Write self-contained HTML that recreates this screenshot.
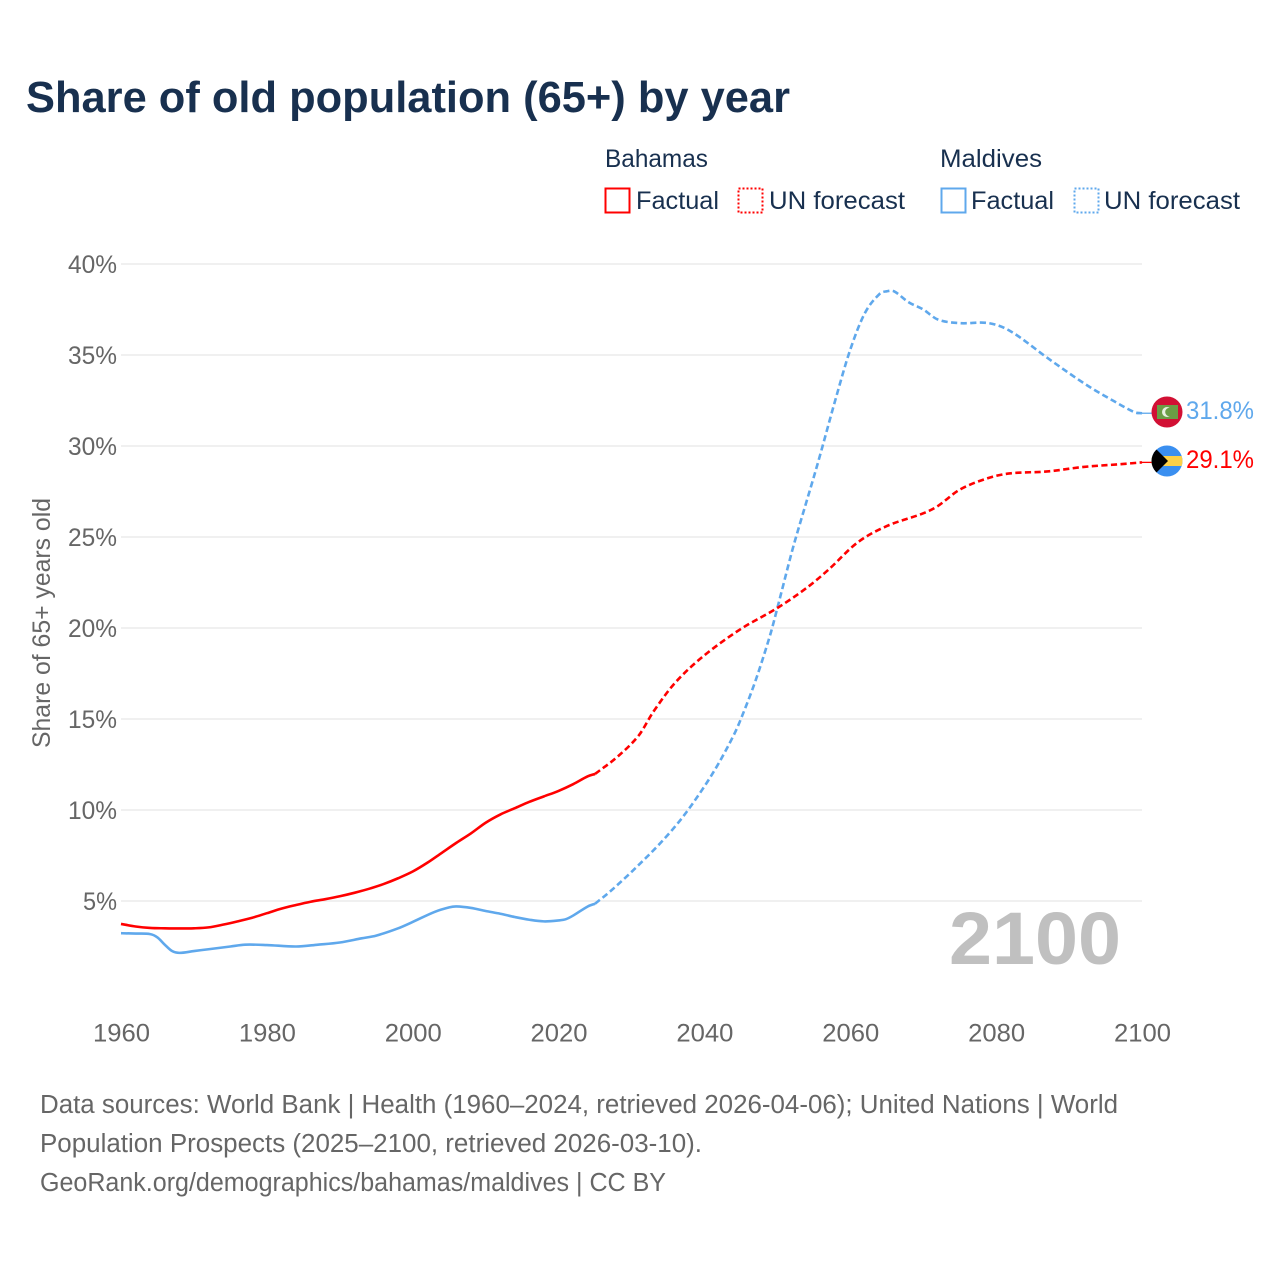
<!DOCTYPE html>
<html lang="en">
<head>
<meta charset="utf-8">
<title>Share of old population (65+) by year</title>
<style>
html,body{margin:0;padding:0;background:#fff;width:1280px;height:1280px;overflow:hidden}
svg{display:block}
text{font-family:"Liberation Sans",sans-serif}
</style>
</head>
<body>
<svg id="chart" width="1280" height="1280" viewBox="0 0 1280 1280" xmlns="http://www.w3.org/2000/svg">
  <rect width="1280" height="1280" fill="#ffffff"/>
  <text x="26" y="112" font-size="44" font-weight="700" fill="#18304f" textLength="764" lengthAdjust="spacingAndGlyphs">Share of old population (65+) by year</text>

  <g font-size="25" fill="#18304f">
    <text x="605" y="167" textLength="103" lengthAdjust="spacingAndGlyphs">Bahamas</text>
    <rect x="605.5" y="188.5" width="24" height="24" fill="none" stroke="#ff0000" stroke-width="2"/>
    <text x="636" y="209" textLength="83" lengthAdjust="spacingAndGlyphs">Factual</text>
    <rect x="738.5" y="188.5" width="24" height="24" fill="none" stroke="#ff0000" stroke-width="2" stroke-dasharray="2 2"/>
    <text x="769" y="209" textLength="136" lengthAdjust="spacingAndGlyphs">UN forecast</text>
    <text x="940" y="167" textLength="102" lengthAdjust="spacingAndGlyphs">Maldives</text>
    <rect x="941.5" y="188.5" width="24" height="24" fill="none" stroke="#5fa8ec" stroke-width="2"/>
    <text x="971" y="209" textLength="83" lengthAdjust="spacingAndGlyphs">Factual</text>
    <rect x="1074.5" y="188.5" width="24" height="24" fill="none" stroke="#5fa8ec" stroke-width="2" stroke-dasharray="2 2"/>
    <text x="1104" y="209" textLength="136" lengthAdjust="spacingAndGlyphs">UN forecast</text>
  </g>

  <g id="grid"></g>
  <g id="yticks" font-size="25" fill="#666666"></g>
  <g id="xticks" font-size="25" fill="#666666"></g>
  <text transform="translate(50,748) rotate(-90)" font-size="25" fill="#666666" textLength="250" lengthAdjust="spacingAndGlyphs">Share of 65+ years old</text>

  <text x="949" y="964" font-size="74" font-weight="700" fill="#c0c0c0" textLength="172" lengthAdjust="spacingAndGlyphs">2100</text>

  <g id="series"></g>

  <g>
    <circle cx="1167" cy="412" r="15.5" fill="#d21034"/>
    <rect x="1157" y="405" width="21" height="14" fill="#6b9e45"/>
    <circle cx="1167" cy="412" r="5" fill="#e8f0e0"/>
    <circle cx="1169.5" cy="412" r="4.3" fill="#6b9e45"/>
  </g>
  <text id="label-maldives" x="1186" y="419" font-size="25" fill="#5fa8ec" textLength="68" lengthAdjust="spacingAndGlyphs">31.8%</text>

  <g>
    <clipPath id="bs"><circle cx="1167" cy="461" r="15.5"/></clipPath>
    <g clip-path="url(#bs)">
      <rect x="1150" y="445" width="34" height="32" fill="#3a8ff0"/>
      <rect x="1150" y="456" width="34" height="10" fill="#fcd047"/>
      <path d="M1150 443L1168 461L1150 479Z" fill="#000000"/>
    </g>
  </g>
  <text id="label-bahamas" x="1186" y="468" font-size="25" fill="#ff0000" textLength="68" lengthAdjust="spacingAndGlyphs">29.1%</text>

  <g font-size="25.5" fill="#666666">
    <text x="40" y="1113" textLength="1078" lengthAdjust="spacingAndGlyphs">Data sources: World Bank | Health (1960–2024, retrieved 2026-04-06); United Nations | World</text>
    <text x="40" y="1152" textLength="662" lengthAdjust="spacingAndGlyphs">Population Prospects (2025–2100, retrieved 2026-03-10).</text>
    <text x="40" y="1191" textLength="626" lengthAdjust="spacingAndGlyphs">GeoRank.org/demographics/bahamas/maldives | CC BY</text>
  </g>
</svg>
<script>
const yTickValues = [5, 10, 15, 20, 25, 30, 35, 40];
const xTickValues = [1960, 1980, 2000, 2020, 2040, 2060, 2080, 2100];

const bahamasFactualYears = [1960,1962,1964,1966,1968,1970,1972,1974,1976,1978,1980,1982,1984,1986,1988,1990,1992,1994,1996,1998,2000,2002,2004,2006,2008,2010,2012,2014,2016,2018,2020,2022,2024,2025];
const bahamasFactualValues = [3.74,3.6,3.52,3.5,3.49,3.5,3.55,3.7,3.88,4.08,4.33,4.58,4.78,4.96,5.1,5.26,5.45,5.67,5.93,6.25,6.62,7.1,7.65,8.2,8.72,9.3,9.75,10.1,10.45,10.75,11.05,11.42,11.85,11.98];

const bahamasForecastYears = [2025,2028,2031,2033,2036,2040,2045,2050,2054,2057,2061,2065,2070,2072,2075,2079,2082,2087,2092,2097,2100];
const bahamasForecastValues = [11.98,12.9,14.1,15.4,17.0,18.5,19.95,21.1,22.2,23.2,24.7,25.6,26.3,26.7,27.6,28.25,28.5,28.6,28.85,29.0,29.1];

const maldivesFactualYears = [1960,1962,1964,1965,1966,1967,1968,1970,1972,1975,1977,1980,1984,1987,1990,1993,1995,1998,2000,2003,2005,2006,2008,2010,2012,2014,2016,2018,2020,2021,2022,2024,2025];
const maldivesFactualValues = [3.23,3.21,3.18,3.0,2.6,2.25,2.15,2.25,2.35,2.5,2.6,2.58,2.5,2.6,2.72,2.95,3.1,3.5,3.85,4.4,4.65,4.7,4.62,4.45,4.3,4.12,3.97,3.88,3.93,4.0,4.2,4.7,4.85];

const maldivesForecastYears = [2025,2027,2030,2034,2037,2040,2042,2044,2045,2047,2049,2050,2052,2053,2055,2056,2058,2060,2062,2064,2065,2066,2068,2070,2072,2075,2079,2082,2087,2090,2093,2096,2099,2100];
const maldivesForecastValues = [4.85,5.5,6.6,8.2,9.6,11.3,12.6,14.1,15.0,17.1,19.6,21.1,24.2,25.6,28.3,29.7,32.6,35.3,37.3,38.35,38.5,38.5,37.9,37.5,36.95,36.75,36.75,36.3,34.85,34.0,33.2,32.5,31.85,31.8];

const NS = 'http://www.w3.org/2000/svg';
const xAt = year => 121 + (year - 1960) * (1142 - 121) / 140;
const yAt = value => 992 - value * 18.2;

function smoothPath(xs, ys) {
  const pts = xs.map((x, i) => [xAt(x), yAt(ys[i])]);
  let d = 'M' + pts[0][0].toFixed(2) + ' ' + pts[0][1].toFixed(2);
  for (let i = 0; i < pts.length - 1; i++) {
    const p0 = pts[Math.max(i - 1, 0)], p1 = pts[i], p2 = pts[i + 1], p3 = pts[Math.min(i + 2, pts.length - 1)];
    const h = p2[0] - p1[0];
    const m1 = (p2[1] - p0[1]) / (p2[0] - p0[0] || 1);
    const m2 = (p3[1] - p1[1]) / (p3[0] - p1[0] || 1);
    const c1x = p1[0] + h / 3, c1y = p1[1] + m1 * h / 3;
    const c2x = p2[0] - h / 3, c2y = p2[1] - m2 * h / 3;
    d += 'C' + c1x.toFixed(2) + ' ' + c1y.toFixed(2) + ' ' + c2x.toFixed(2) + ' ' + c2y.toFixed(2) + ' ' + p2[0].toFixed(2) + ' ' + p2[1].toFixed(2);
  }
  return d;
}

const grid = document.getElementById('grid');
const yticks = document.getElementById('yticks');
const xticks = document.getElementById('xticks');
const series = document.getElementById('series');

yTickValues.forEach(v => {
  const line = document.createElementNS(NS, 'line');
  
  
  line.setAttribute('x1', 121);
  line.setAttribute('x2', 1142);
  line.setAttribute('y1', yAt(v));
  line.setAttribute('y2', yAt(v));
  line.setAttribute('stroke', '#e8e8e8');
  line.setAttribute('stroke-width', '1.3');
  grid.appendChild(line);

  const t = document.createElementNS(NS, 'text');
  
  
  const label = v + '%';
  const w = String(v).length * 15 + 19;
  t.setAttribute('x', 117 - w);
  t.setAttribute('y', yAt(v) + 9);
  t.setAttribute('textLength', w);
  t.setAttribute('lengthAdjust', 'spacingAndGlyphs');
  t.textContent = label;
  yticks.appendChild(t);
});

xTickValues.forEach(v => {
  const t = document.createElementNS(NS, 'text');
  
  
  t.setAttribute('x', xAt(v) - 28);
  t.setAttribute('y', 1041.5);
  t.setAttribute('textLength', 57);
  t.setAttribute('lengthAdjust', 'spacingAndGlyphs');
  t.textContent = String(v);
  xticks.appendChild(t);
});

function addLine(name, xs, ys, color, dashed) {
  const p = document.createElementNS(NS, 'path');
  
  
  p.setAttribute('d', smoothPath(xs, ys));
  p.setAttribute('fill', 'none');
  p.setAttribute('stroke', color);
  p.setAttribute('stroke-width', '2.6');
  if (dashed) p.setAttribute('stroke-dasharray', '6.2 3.4');
  series.appendChild(p);
}

function addConnector(name, value, color) {
  const c = document.createElementNS(NS, 'line');
  
  
  c.setAttribute('x1', xAt(2100));
  c.setAttribute('x2', 1153);
  c.setAttribute('y1', yAt(value));
  c.setAttribute('y2', yAt(value));
  c.setAttribute('stroke', color);
  c.setAttribute('stroke-width', '1.3');
  series.appendChild(c);
}

addLine('maldives-factual-line', maldivesFactualYears, maldivesFactualValues, '#5fa8ec', false);
addLine('maldives-forecast-line', maldivesForecastYears, maldivesForecastValues, '#5fa8ec', true);
addLine('bahamas-factual-line', bahamasFactualYears, bahamasFactualValues, '#ff0000', false);
addLine('bahamas-forecast-line', bahamasForecastYears, bahamasForecastValues, '#ff0000', true);
addConnector('maldives-end-connector', maldivesForecastValues[maldivesForecastValues.length - 1], '#5fa8ec');
addConnector('bahamas-end-connector', bahamasForecastValues[bahamasForecastValues.length - 1], '#ff0000');
</script>
</body>
</html>
